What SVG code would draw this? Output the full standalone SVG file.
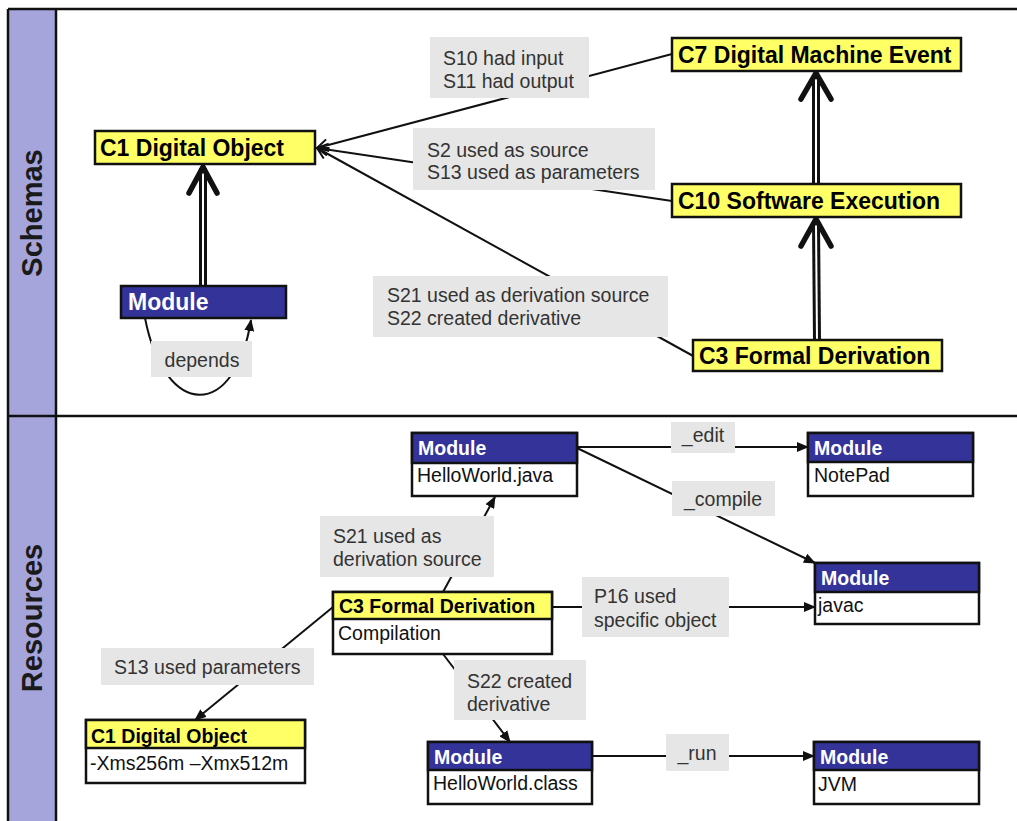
<svg xmlns="http://www.w3.org/2000/svg" width="1017" height="821" viewBox="0 0 1017 821">
  <style>
    .frame { stroke: #111; stroke-width: 2.5; fill: none; }
    .side { fill: #a5a5dc; }
    .lane { font-family: "Liberation Sans", Arial, sans-serif; font-weight: bold; font-size: 29px; fill: #1a1a1a; }
    .cls { fill: #ffff66; stroke: #111; stroke-width: 2.5; }
    .mod { fill: #333399; stroke: #111; stroke-width: 2.5; }
    .body { fill: #fff; stroke: #111; stroke-width: 2.5; }
    .t1 { font-family: "Liberation Sans", Arial, sans-serif; font-weight: bold; font-size: 23px; fill: #000; }
    .t2 { font-family: "Liberation Sans", Arial, sans-serif; font-weight: bold; font-size: 19.5px; fill: #000; }
    .w { fill: #fff; }
    .val { font-family: "Liberation Sans", Arial, sans-serif; font-size: 19.5px; fill: #111; }
    .lbl { fill: #e6e6e6; }
    .lt { font-family: "Liberation Sans", Arial, sans-serif; font-size: 19.5px; fill: #333; }
    .edge { stroke: #111; stroke-width: 2; fill: none; }
    .open { marker-end: url(#open); }
    .fill { marker-end: url(#solid); }
    .isa-out { stroke: #111; stroke-width: 8; fill: none; }
    .isa-in { stroke: #fff; stroke-width: 2; fill: none; }
    .chev { stroke: #111; stroke-width: 5.5; fill: none; stroke-linecap: round; stroke-linejoin: round; }
  </style>
  <defs>
    <marker id="open" viewBox="0 0 14 14" refX="12" refY="7" markerWidth="14" markerHeight="14" markerUnits="userSpaceOnUse" orient="auto">
      <path d="M1,1 L12,7 L1,13" fill="none" stroke="#111" stroke-width="2"/>
    </marker>
    <marker id="solid" viewBox="0 0 12 10" refX="11" refY="5" markerWidth="12" markerHeight="10" markerUnits="userSpaceOnUse" orient="auto">
      <path d="M0,0 L12,5 L0,10 z" fill="#111"/>
    </marker>
  </defs>

  <rect width="1017" height="821" fill="#fff"/>

  <!-- swimlane frame -->
  <g id="lanes">
    <rect class="side" x="8" y="9" width="48" height="812"/>
    <line class="frame" x1="8" y1="9" x2="1017" y2="9"/>
    <line class="frame" x1="8" y1="9" x2="8" y2="821"/>
    <line class="frame" x1="56" y1="9" x2="56" y2="821"/>
    <line class="frame" x1="8" y1="416" x2="1017" y2="416"/>
    <text class="lane" transform="translate(32,213) rotate(-90)" text-anchor="middle" dominant-baseline="central">Schemas</text>
    <text class="lane" transform="translate(32,618) rotate(-90)" text-anchor="middle" dominant-baseline="central">Resources</text>
  </g>

  <!-- connectors -->
  <g id="connectors">
    <!-- schema associations -->
    <path class="edge open" d="M672,54 L317,148"/>
    <path class="edge open" d="M672,201 L317,148"/>
    <path class="edge open" d="M695,357 L317,148"/>
    <path class="edge fill" d="M145,318 C165,420 235,420 251,320"/>

    <!-- generalisations -->
    <line class="isa-out" x1="203" y1="286" x2="203" y2="168"/>
    <line class="isa-in" x1="203" y1="286" x2="203" y2="172"/>
    <polyline class="chev" points="189,193 203,167 217,193"/>

    <line class="isa-out" x1="816" y1="184" x2="816" y2="75"/>
    <line class="isa-in" x1="816" y1="184" x2="816" y2="79"/>
    <polyline class="chev" points="801,99 816,73 831,99"/>

    <line class="isa-out" x1="817" y1="340" x2="816" y2="221"/>
    <line class="isa-in" x1="817" y1="340" x2="816" y2="225"/>
    <polyline class="chev" points="801,246 816,219 831,246"/>

    <!-- resource links -->
    <path class="edge fill" d="M577,447 L808,447"/>
    <path class="edge fill" d="M577,448 L815,563"/>
    <path class="edge fill" d="M443,592 L495,497"/>
    <path class="edge fill" d="M552,607 L815,607"/>
    <path class="edge fill" d="M443,654 L510,742"/>
    <path class="edge fill" d="M333,607 L195,720"/>
    <path class="edge fill" d="M592,756 L814,756"/>
  </g>

  <!-- connector labels -->
  <g id="labels">
    <rect class="lbl" x="430" y="37" width="159" height="61"/>
    <text class="lt" x="443" y="65">S10 had input</text>
    <text class="lt" x="443" y="88">S11 had output</text>

    <rect class="lbl" x="413" y="128" width="242" height="62"/>
    <text class="lt" x="427" y="157">S2 used as source</text>
    <text class="lt" x="427" y="179">S13 used as parameters</text>

    <rect class="lbl" x="373" y="276" width="295" height="61"/>
    <text class="lt" x="387" y="302">S21 used as derivation source</text>
    <text class="lt" x="387" y="325">S22 created derivative</text>

    <rect class="lbl" x="151" y="341" width="101" height="36"/>
    <text class="lt" x="202" y="367" text-anchor="middle">depends</text>

    <rect class="lbl" x="671" y="422" width="64" height="31"/>
    <text class="lt" x="703" y="442" text-anchor="middle">_edit</text>

    <rect class="lbl" x="672" y="481" width="103" height="35"/>
    <text class="lt" x="723" y="506" text-anchor="middle">_compile</text>

    <rect class="lbl" x="320" y="516" width="174" height="61"/>
    <text class="lt" x="333" y="543">S21 used as</text>
    <text class="lt" x="333" y="566">derivation source</text>

    <rect class="lbl" x="582" y="577" width="147" height="60"/>
    <text class="lt" x="594" y="603">P16 used</text>
    <text class="lt" x="594" y="627">specific object</text>

    <rect class="lbl" x="454" y="660" width="132" height="60"/>
    <text class="lt" x="467" y="688">S22 created</text>
    <text class="lt" x="467" y="711">derivative</text>

    <rect class="lbl" x="101" y="648" width="213" height="37"/>
    <text class="lt" x="114" y="674">S13 used parameters</text>

    <rect class="lbl" x="666" y="734" width="63" height="37"/>
    <text class="lt" x="697" y="760" text-anchor="middle">_run</text>
  </g>

  <!-- schema nodes -->
  <g id="schema-c1">
    <rect class="cls" x="95" y="131" width="220" height="33"/>
    <text class="t1" x="100" y="156">C1 Digital Object</text>
  </g>
  <g id="schema-module">
    <rect class="mod" x="121" y="286" width="165" height="32"/>
    <text class="t1 w" x="128" y="310">Module</text>
  </g>
  <g id="schema-c7">
    <rect class="cls" x="672" y="38" width="289" height="33"/>
    <text class="t1" x="678" y="63">C7 Digital Machine Event</text>
  </g>
  <g id="schema-c10">
    <rect class="cls" x="672" y="184" width="289" height="33"/>
    <text class="t1" x="678" y="209">C10 Software Execution</text>
  </g>
  <g id="schema-c3">
    <rect class="cls" x="693" y="340" width="249" height="31"/>
    <text class="t1" x="699" y="364">C3 Formal Derivation</text>
  </g>

  <!-- resource nodes -->
  <g id="res-helloworld-java">
    <rect class="body" x="412" y="433" width="165" height="63"/>
    <rect class="mod" x="412" y="433" width="165" height="30"/>
    <text class="t2 w" x="418" y="455">Module</text>
    <text class="val" x="417" y="482">HelloWorld.java</text>
  </g>
  <g id="res-notepad">
    <rect class="body" x="808" y="433" width="165" height="63"/>
    <rect class="mod" x="808" y="433" width="165" height="29"/>
    <text class="t2 w" x="814" y="455">Module</text>
    <text class="val" x="814" y="482">NotePad</text>
  </g>
  <g id="res-javac">
    <rect class="body" x="815" y="563" width="164" height="61"/>
    <rect class="mod" x="815" y="563" width="164" height="29"/>
    <text class="t2 w" x="821" y="585">Module</text>
    <text class="val" x="818" y="612">javac</text>
  </g>
  <g id="res-compilation">
    <rect class="body" x="333" y="592" width="219" height="62"/>
    <rect class="cls" x="333" y="592" width="219" height="27"/>
    <text class="t2" x="339" y="613">C3 Formal Derivation</text>
    <text class="val" x="338" y="640">Compilation</text>
  </g>
  <g id="res-helloworld-class">
    <rect class="body" x="428" y="742" width="164" height="62"/>
    <rect class="mod" x="428" y="742" width="164" height="28"/>
    <text class="t2 w" x="434" y="764">Module</text>
    <text class="val" x="433" y="790">HelloWorld.class</text>
  </g>
  <g id="res-jvm">
    <rect class="body" x="814" y="742" width="165" height="62"/>
    <rect class="mod" x="814" y="742" width="165" height="28"/>
    <text class="t2 w" x="820" y="764">Module</text>
    <text class="val" x="818" y="791">JVM</text>
  </g>
  <g id="res-jvm-options">
    <rect class="body" x="86" y="720" width="219" height="63"/>
    <rect class="cls" x="86" y="720" width="219" height="28"/>
    <text class="t2" x="91" y="743">C1 Digital Object</text>
    <text class="val" x="90" y="770">-Xms256m –Xmx512m</text>
  </g>
</svg>
